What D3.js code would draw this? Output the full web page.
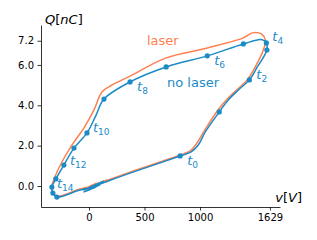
<!DOCTYPE html>
<html><head><meta charset="utf-8">
<script src="https://cdn.jsdelivr.net/npm/d3@7"></script>
<style>body{margin:0;background:#fff}svg{display:block}</style>
</head><body>
<script>
// ---- data ----
const noLaserV = [135,-45,72,-9,370,821,920,984,1047,1173,1254,1345,1444,1516,1602,1597,1552,1390,1065,695,370,135,63,-18,-135,-226,-298,-334,-325,-289,-81,27,-45,63,-27,99,9,135];
const noLaserQ = [0.25,-0.20,0.10,-0.10,0.64,1.49,1.69,2.03,2.68,3.67,4.26,4.76,5.26,5.90,6.74,7.09,7.26,7.04,6.45,5.90,5.16,4.31,3.50,2.63,1.88,1.04,0.35,-0.05,-0.35,-0.55,-0.20,-0.10,-0.30,-0.05,-0.25,0.05,-0.15,0.20];
const laserV = [162,-45,72,-9,370,821,911,966,1038,1155,1245,1330,1425,1502,1570,1588,1552,1471,1390,1065,695,370,208,117,45,-45,-153,-244,-307,-334,-325,-289,-81,36,-36,72,-9,171];
const laserQ = [0.30,-0.15,0.15,-0.05,0.69,1.54,1.74,2.08,2.73,3.72,4.31,4.76,5.26,5.95,6.74,7.24,7.54,7.59,7.34,6.84,6.35,5.45,5.01,4.66,3.77,2.88,2.03,1.19,0.45,0.00,-0.30,-0.50,-0.15,0.00,-0.20,0.05,-0.10,0.25];
// sample instants t0..t16 on the no-laser curve
const sampleV = [821,1173,1444,1602,1597,1390,1065,695,370,135,-18,-135,-226,-298,-334,-325,-289];
const sampleQ = [1.49,3.67,5.26,6.74,7.09,7.04,6.45,5.90,5.16,4.31,2.63,1.88,1.04,0.35,-0.05,-0.35,-0.55];
const labelIdx = [0,2,4,6,8,10,12,14];
const xTicks = [0,500,1000,1629];
const yTicks = [0.0,2.0,4.0,6.0,7.2];

// ---- layout ----
const W=317,H=240;
const blue="#1b8bc6", orange="#ff7f50";
const svg=d3.select("body").append("svg").attr("width",W).attr("height",H);
const x=d3.scaleLinear().domain([-432,1720]).range([41,280]);
const y=d3.scaleLinear().domain([-1.04,7.98]).range([207,25]);
const font="DejaVu Sans, sans-serif";

// axes
const ax=d3.axisBottom(x).tickValues(xTicks).tickFormat(d=>String(d)).tickSize(3.5).tickPadding(3.5).tickSizeOuter(0);
const gx=svg.append("g").attr("transform","translate(0,207)").call(ax);
const ay=d3.axisLeft(y).tickValues(yTicks).tickFormat(d3.format(".1f")).tickSize(3.5).tickPadding(3.5).tickSizeOuter(0);
const gy=svg.append("g").attr("transform","translate(41,0)").call(ay);
[gx,gy].forEach(g=>{
  g.selectAll("text").attr("font-family",font).attr("font-size",10).attr("fill","#000");
  g.selectAll("line").attr("stroke","#000").attr("stroke-width",0.8);
  g.select(".domain").attr("stroke","#000").attr("stroke-width",0.8);
});

// lines
const line=d3.line().curve(d3.curveCatmullRom.alpha(0.5));
const lp=laserV.map((v,i)=>[x(v),y(laserQ[i])]);
const np=noLaserV.map((v,i)=>[x(v),y(noLaserQ[i])]);
svg.append("path").attr("d",line(lp)).attr("fill","none").attr("stroke",orange).attr("stroke-width",1.5);
svg.append("path").attr("d",line(np)).attr("fill","none").attr("stroke",blue).attr("stroke-width",1.5);

// sample dots
svg.selectAll("circle.s").data(sampleV).enter().append("circle")
  .attr("cx",(v)=>x(v)).attr("cy",(v,i)=>y(sampleQ[i])).attr("r",2.6).attr("fill",blue);

// t labels
const offs={0:[7,9],2:[7,-1],4:[6,-2],6:[7,9],8:[7,9],10:[6,-1],12:[6,0],14:[5,1]};
labelIdx.forEach(k=>{
  const [dx,dy]=offs[k];
  const t=svg.append("text").attr("x",x(sampleV[k])+dx).attr("y",y(sampleQ[k])+dy)
    .attr("font-family",font).attr("fill",blue);
  t.append("tspan").attr("font-size",13).attr("font-style","italic").text("t");
  t.append("tspan").attr("font-size",9).attr("dy",3).text(String(k));
});

// series labels
svg.append("text").attr("x",147).attr("y",45).attr("font-family",font).attr("font-size",13).attr("fill",orange).text("laser");
svg.append("text").attr("x",167).attr("y",87).attr("font-family",font).attr("font-size",13).attr("fill",blue).text("no laser");

// axis labels
const ql=svg.append("text").attr("x",45).attr("y",24).attr("font-family",font).attr("font-size",13).attr("fill","#000");
ql.append("tspan").attr("font-style","italic").text("Q");
ql.append("tspan").text("[");
ql.append("tspan").attr("font-style","italic").text("nC");
ql.append("tspan").text("]");
const vl=svg.append("text").attr("x",302).attr("y",202).attr("text-anchor","end").attr("font-family",font).attr("font-size",13).attr("fill","#000");
vl.append("tspan").attr("font-style","italic").text("v");
vl.append("tspan").text("[");
vl.append("tspan").attr("font-style","italic").text("V");
vl.append("tspan").text("]");
</script>
</body></html>
